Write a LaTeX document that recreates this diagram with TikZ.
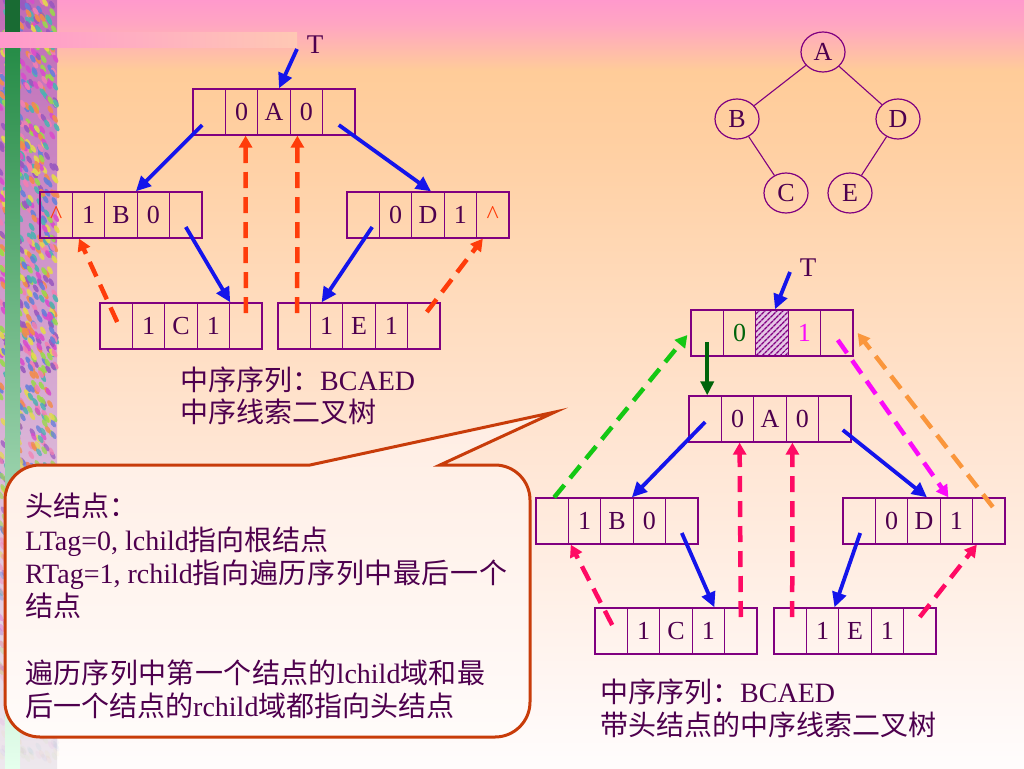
\documentclass[tikz,border=0pt]{standalone}
\usepackage{fontspec}
\setmainfont{Liberation Serif}
\newfontfamily\cjk{Noto Sans CJK SC}
\usetikzlibrary{arrows.meta,shapes.geometric,patterns.meta}
\newcommand\zh[1]{{\cjk #1}}
% spread CJK characters with stretchable glue between them
\def\spr#1{#1\sprr}
\def\sprr#1{\ifx#1\relax\else\hskip0pt plus 1fil #1\expandafter\sprr\fi}
\definecolor{txt}{RGB}{78,0,78}
\definecolor{boxc}{RGB}{128,0,128}
\definecolor{arrblue}{RGB}{20,20,235}
\definecolor{redor}{RGB}{255,60,10}
\definecolor{crim}{RGB}{255,10,100}
\definecolor{gdash}{RGB}{20,200,20}
\definecolor{mdash}{RGB}{250,10,250}
\definecolor{odash}{RGB}{250,150,60}
\definecolor{dgreen}{RGB}{0,100,10}
\definecolor{callc}{RGB}{200,60,10}
\definecolor{pinkc}{RGB}{255,153,204}
\definecolor{pinkr}{RGB}{255,200,180}
\definecolor{stripTop}{rgb}{0.75,0.42,0.72}
\definecolor{stripBot}{rgb}{0.93,0.91,0.93}
\definecolor{gbTop}{rgb}{0.15,0.55,0.28}
\definecolor{gbMid}{rgb}{0.45,0.92,0.55}
\definecolor{gbBot}{rgb}{0.9,1,0.93}
\definecolor{dkg}{rgb}{0.1,0.42,0.2}
\definecolor{calTop}{rgb}{1,0.93,0.89}
\definecolor{calBot}{rgb}{1,0.985,0.98}
\definecolor{hatchbg}{rgb}{0.9,0.78,0.9}
\definecolor{sp0}{rgb}{0.85,0.3,0.8}
\definecolor{sp1}{rgb}{0.6,0.35,0.75}
\definecolor{sp2}{rgb}{0.6,0.85,0.3}
\definecolor{sp3}{rgb}{0.95,0.55,0.3}
\definecolor{sp4}{rgb}{0.3,0.7,0.7}
\definecolor{sp5}{rgb}{0.9,0.85,0.3}
\definecolor{sp6}{rgb}{0.95,0.5,0.7}
\definecolor{sp7}{rgb}{0.4,0.5,0.85}
\definecolor{sp8}{rgb}{0.7,0.3,0.6}
\pgfdeclareverticalshading{bgshade}{100bp}{rgb(0bp)=(1,0.99,0.99); rgb(25bp)=(1,0.99,0.99); rgb(29.4bp)=(1,0.97,0.96); rgb(45.7bp)=(1,0.9,0.83); rgb(55.5bp)=(1,0.86,0.74); rgb(65.2bp)=(1,0.815,0.64); rgb(70.4bp)=(1,0.8,0.6); rgb(73.4bp)=(1,0.65,0.76); rgb(75bp)=(1,0.6,0.8); rgb(100bp)=(1,0.6,0.8)}
\newcommand\recd[8]{%
  \node[cell] (#1-1) at (#2+16.2,#3+23) {#4};
  \node[cell] (#1-2) at (#2+48.6,#3+23) {#5};
  \node[cell] (#1-3) at (#2+81,#3+23) {#6};
  \node[cell] (#1-4) at (#2+113.4,#3+23) {#7};
  \node[cell] (#1-5) at (#2+145.8,#3+23) {#8};
}
\begin{document}
\begin{tikzpicture}[x=1pt,y=-1pt,
  cell/.style={draw=boxc, line width=1.3pt, minimum width=32.4pt, minimum height=46pt, inner sep=0pt, text=txt, font=\fontsize{26}{26}\selectfont, text height=17pt, text depth=0pt},
  tnode/.style={ellipse, draw=boxc, line width=1.2pt, minimum width=44pt, minimum height=40pt, inner sep=0pt, text=txt, font=\fontsize{26}{26}\selectfont},
  tline/.style={draw=boxc, line width=1.1pt},
  lab/.style={inner sep=0pt, text=txt, font=\fontsize{28}{28}\selectfont, anchor=west},
  tlab/.style={inner sep=0pt, text=txt, font=\fontsize{27}{27}\selectfont},
  blueA/.style={draw=arrblue, line width=3.8pt, -{Triangle[length=15pt,width=14pt]}},
  greenA/.style={draw=dgreen, line width=4pt, -{Triangle[length=14pt,width=13pt]}},
  dsh/.style={line width=4.5pt, dash pattern=on 16pt off 9pt, -{Triangle[length=12pt,width=13pt]}},
  calltext/.style={inner sep=0pt, text=txt, align=left, font=\fontsize{28}{33.3}\selectfont}]
\useasboundingbox (0,0) rectangle (1024,768);
% background
\shade[shading=bgshade] (0,0) rectangle (1024,768);
% left decorative strip
\shade[top color=stripTop, bottom color=stripBot] (0,0) rectangle (57,768);
\pgfmathsetseed{11}
\foreach \k in {1,...,1100}{
  \pgfmathsetmacro\xx{rnd*57}
  \pgfmathsetmacro\yy{rnd*760}
  \pgfmathtruncatemacro\cc{floor(rnd*8)}
  \pgfmathsetmacro\op{min(0.9,max(0.05,(760-\yy)/420))}
  \fill[color=sp\cc, opacity=\op, rotate around={30:(\xx,\yy)}] (\xx,\yy) ellipse[x radius=2.2, y radius=4.5];
}
\shade[top color=gbTop, middle color=gbMid, bottom color=gbBot] (5,48) rectangle (20,768);
\fill[dkg] (5,0) rectangle (20,32);
\shade[left color=pinkc, right color=pinkr] (0,33) rectangle (297,48);
% callout
\draw[callc, line width=3pt, top color=calTop, bottom color=calBot]
  (310,465) -- (555,412) -- (440,465) -- (495,465)
  arc[start angle=-90, end angle=0, radius=35] -- (530,702)
  arc[start angle=0, end angle=90, radius=35] -- (40,737)
  arc[start angle=90, end angle=180, radius=35] -- (5,500)
  arc[start angle=180, end angle=270, radius=35] -- cycle;
\node[calltext, anchor=north west] (ct) at (25,493) {\zh{头结点：}\\
LTag=0, lchild\zh{指向根结点}\\
\makebox[482pt][s]{RTag=1, rchild\zh{\spr 指向遍历序列中最后一个\relax}}\\
\zh{结点}\\[33.3pt]
\makebox[460pt][s]{\zh{\spr 遍历序列中第一个结点的\relax}lchild\zh{\spr 域和最\relax}}\\
\zh{后一个结点的}rchild\zh{域都指向头结点}};
% ---------- top-left threaded tree ----------
\node[tlab] (T1) at (315,45) {T};
\recd{A1}{193}{89}{}{0}{A}{0}{}
\recd{B1}{40}{192}{\textcolor{redor}{\textasciicircum}}{1}{B}{0}{}
\recd{D1}{347}{192}{}{0}{D}{1}{\textcolor{redor}{\textasciicircum}}
\recd{C1}{100}{303}{}{1}{C}{1}{}
\recd{E1}{278}{303}{}{1}{E}{1}{}
\draw[blueA] ([shift={(-18,4)}]T1.center) -- ([xshift=5pt]A1-3.north);
\draw[blueA] ([shift={(-7,13)}]A1-1.center) -- ([xshift=-2pt]B1-3.north east);
\draw[blueA] ([shift={(0,13)}]A1-5.center) -- ([xshift=3pt]D1-3.north);
\draw[blueA] ([shift={(0,12)}]B1-5.center) -- (C1-4.north east);
\draw[blueA] ([shift={(9,12)}]D1-1.center) -- ([xshift=-5pt]E1-2.north);
\draw[dsh, redor] ([shift={(1,-4)}]C1-1.center) -- ([xshift=6pt]B1-1.south east);
\draw[dsh, redor] ([shift={(0,-13)}]C1-5.center) -- ([xshift=4pt]A1-2.south);
\draw[dsh, redor] ([shift={(3,-13)}]E1-1.center) -- ([xshift=-9pt]A1-4.south);
\draw[dsh, redor] ([shift={(3,-14)}]E1-5.center) -- ([xshift=-10pt]D1-5.south);
\node[lab] (l1a) at (180,380) {\zh{中序序列：}BCAED};
\node[lab] (l1b) at (180,412) {\zh{中序线索二叉树}};
% ---------- top-right binary tree ----------
\node[tnode] (tA) at (823,52) {A};
\node[tnode] (tB) at (737,119) {B};
\node[tnode] (tD) at (898,119) {D};
\node[tnode] (tC) at (786,193) {C};
\node[tnode] (tE) at (850,193) {E};
\draw[tline] (tA) -- (tB);
\draw[tline] (tA) -- (tD);
\draw[tline] (tB) -- (tC);
\draw[tline] (tD) -- (tE);
% ---------- bottom-right tree with head node ----------
\node[tlab] (T2) at (808,268) {T};
\recd{H}{691}{310}{}{\textcolor{dgreen}{0}}{}{\textcolor{mdash}{1}}{}
\node[cell, fill=hatchbg, postaction={pattern={Lines[angle=45,distance=4pt,line width=1.5pt]}, pattern color=boxc}] (Hh) at (H-3) {};
\recd{A2}{689}{396}{}{0}{A}{0}{}
\recd{B2}{536}{498}{}{1}{B}{0}{}
\recd{D2}{843}{498}{}{0}{D}{1}{}
\recd{C2}{595}{608}{}{1}{C}{1}{}
\recd{E2}{774}{608}{}{1}{E}{1}{}
\draw[blueA] ([shift={(-18,4)}]T2.center) -- ([xshift=3pt]H-3.north);
\draw[greenA] ([shift={(0,9)}]H-1.center) -- ([xshift=2pt]A2-1.north);
\draw[blueA] ([shift={(0,3)}]A2-1.center) -- ([xshift=-2pt]B2-3.north east);
\draw[blueA] ([shift={(8,11)}]A2-5.center) -- ([xshift=3pt]D2-3.north);
\draw[blueA] ([shift={(0,12)}]B2-5.center) -- ([xshift=6pt]C2-4.north);
\draw[blueA] ([shift={(1,12)}]D2-1.center) -- ([xshift=-5pt]E2-2.north east);
\draw[dsh, crim] ([shift={(1,-6)}]C2-1.center) -- ([xshift=3pt]B2-2.south west);
\draw[dsh, crim] ([shift={(0,-14)}]C2-5.center) -- ([xshift=2pt]A2-2.south);
\draw[dsh, crim] ([shift={(2,-14)}]E2-1.center) -- ([xshift=-10pt]A2-4.south);
\draw[dsh, crim] ([shift={(0,-14)}]E2-5.center) -- ([xshift=-12pt]D2-5.south);
\draw[dsh, gdash] ([xshift=2pt]B2-1.north) -- ([shift={(-3,2)}]H-1.west);
\draw[dsh, mdash] ([shift={(1,7)}]H-5.center) -- ([xshift=-8pt]D2-4.north);
\draw[dsh, odash] ([shift={(4,-14)}]D2-5.center) -- ([xshift=4pt]H-5.east);
\node[lab] (l2a) at (600,692) {\zh{中序序列：}BCAED};
\node[lab] (l2b) at (600,725) {\zh{带头结点的中序线索二叉树}};
\end{tikzpicture}
\end{document}
